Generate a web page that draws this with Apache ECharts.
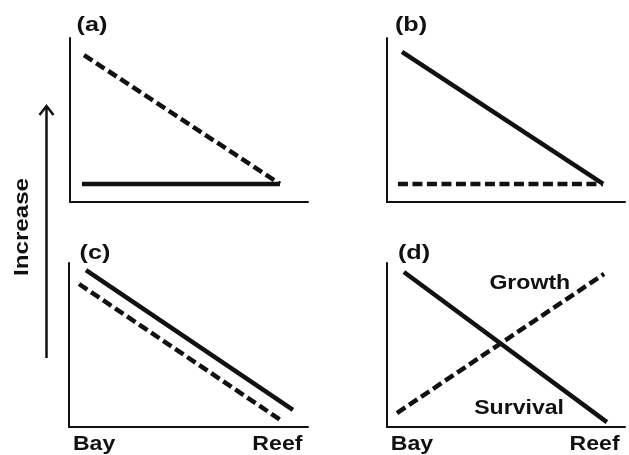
<!DOCTYPE html>
<html>
<head>
<meta charset="utf-8">
<script src="https://cdn.jsdelivr.net/npm/echarts@6/dist/echarts.min.js"></script>
<style>
  html, body { margin: 0; padding: 0; background: #fff; }
  #chart { width: 629px; height: 455px; }
</style>
</head>
<body>
<div id="chart"></div>
<script>
// data: [x, y] in 0..100 units for each panel
var panelNames = ['(a)', '(b)', '(c)', '(d)'];
var xLabels = ['Bay', 'Reef'];
var xLabelPos = [10.5, 87.2];
var solidA = [[5, 11], [88.2, 11]];
var dashA = [[5.9, 89.6], [88.2, 11]];
var solidB = [[6.3, 91.5], [90.8, 11]];
var dashB = [[4.6, 11], [90.8, 11]];
var solidC = [[7.1, 95.7], [93.7, 10.4]];
var dashC = [[4.2, 87.2], [89.1, 3.7]];
var solidD = [[7.1, 94.5], [92.4, 3]];
var dashD = [[4.2, 8.5], [91.2, 93.3]];
var curveNames = ['Growth', 'Survival'];
var curveLabelPos = [[60, 87.5], [55.5, 11.6]];

var ink = '#111';
var fam = '"Liberation Sans", Arial, sans-serif';

// grid boxes: left, top, width, height (px)
var grids = [
  {left: 70, top: 38, width: 238, height: 164},
  {left: 387, top: 38, width: 238, height: 164},
  {left: 69, top: 263, width: 239, height: 164},
  {left: 387, top: 263, width: 238, height: 164}
];

var xAxes = [], yAxes = [];
for (var i = 0; i < 4; i++) {
  xAxes.push({
    type: 'value', gridIndex: i, min: 0, max: 100,
    axisLine: {show: true, lineStyle: {color: ink, width: 2}},
    axisTick: {show: false},
    splitLine: {show: false},
    axisLabel: {show: false}
  });
  yAxes.push({
    type: 'value', gridIndex: i, min: 0, max: 100,
    axisLine: {show: true, lineStyle: {color: ink, width: 2}},
    axisTick: {show: false},
    splitLine: {show: false},
    axisLabel: {show: false}
  });
}

function ln(idx, data, dashed) {
  return {
    type: 'line', xAxisIndex: idx, yAxisIndex: idx,
    data: data, symbol: 'none', silent: true,
    lineStyle: {color: ink, width: 4.5, type: dashed ? [10, 4.5] : 'solid', cap: 'butt'}
  };
}

var series = [
  ln(0, solidA, false), ln(0, dashA, true),
  ln(1, solidB, false), ln(1, dashB, true),
  ln(2, solidC, false), ln(2, dashC, true),
  ln(3, solidD, false), ln(3, dashD, true)
];

function txt(s, x, y, size, sx, rot) {
  return {
    type: 'text', x: x, y: y, rotation: rot || 0, scaleX: sx,
    style: {text: s, fill: ink, font: 'bold ' + size + 'px ' + fam,
            textAlign: 'center', textVerticalAlign: 'middle'}
  };
}

var chart = echarts.init(document.getElementById('chart'));
chart.setOption({
  animation: false,
  backgroundColor: '#fff',
  grid: grids.map(function (g) {
    return {left: g.left, top: g.top, width: g.width, height: g.height, outerBoundsMode: 'none'};
  }),
  xAxis: xAxes,
  yAxis: yAxes,
  series: series
});

var labelPos = [[92, 25], [411, 25], [95, 253], [414, 253]];
var graphic = [];
for (var k = 0; k < 4; k++) {
  graphic.push(txt(panelNames[k], labelPos[k][0], labelPos[k][1], 21, 1.2));
}
// Bay / Reef under bottom panels
[2, 3].forEach(function (g) {
  xLabelPos.forEach(function (v, j) {
    var p = chart.convertToPixel({gridIndex: g}, [v, 0]);
    graphic.push(txt(xLabels[j], p[0], p[1] + 17, 21, 1.1));
  });
});
// curve names in panel d
curveNames.forEach(function (n, j) {
  var p = chart.convertToPixel({gridIndex: 3}, curveLabelPos[j]);
  graphic.push(txt(n, p[0], p[1], 21, 1.1));
});
graphic.push(
  txt('Increase', 22, 227, 21, 1.15, Math.PI / 2),
  {type: 'line', shape: {x1: 46.5, y1: 358, x2: 46.5, y2: 107},
   style: {stroke: ink, lineWidth: 2.5}},
  {type: 'polyline', shape: {points: [[39.5, 115], [46.5, 106], [53.5, 115]]},
   style: {stroke: ink, lineWidth: 2.5, fill: null}}
);
chart.setOption({graphic: graphic});
</script>
</body>
</html>
